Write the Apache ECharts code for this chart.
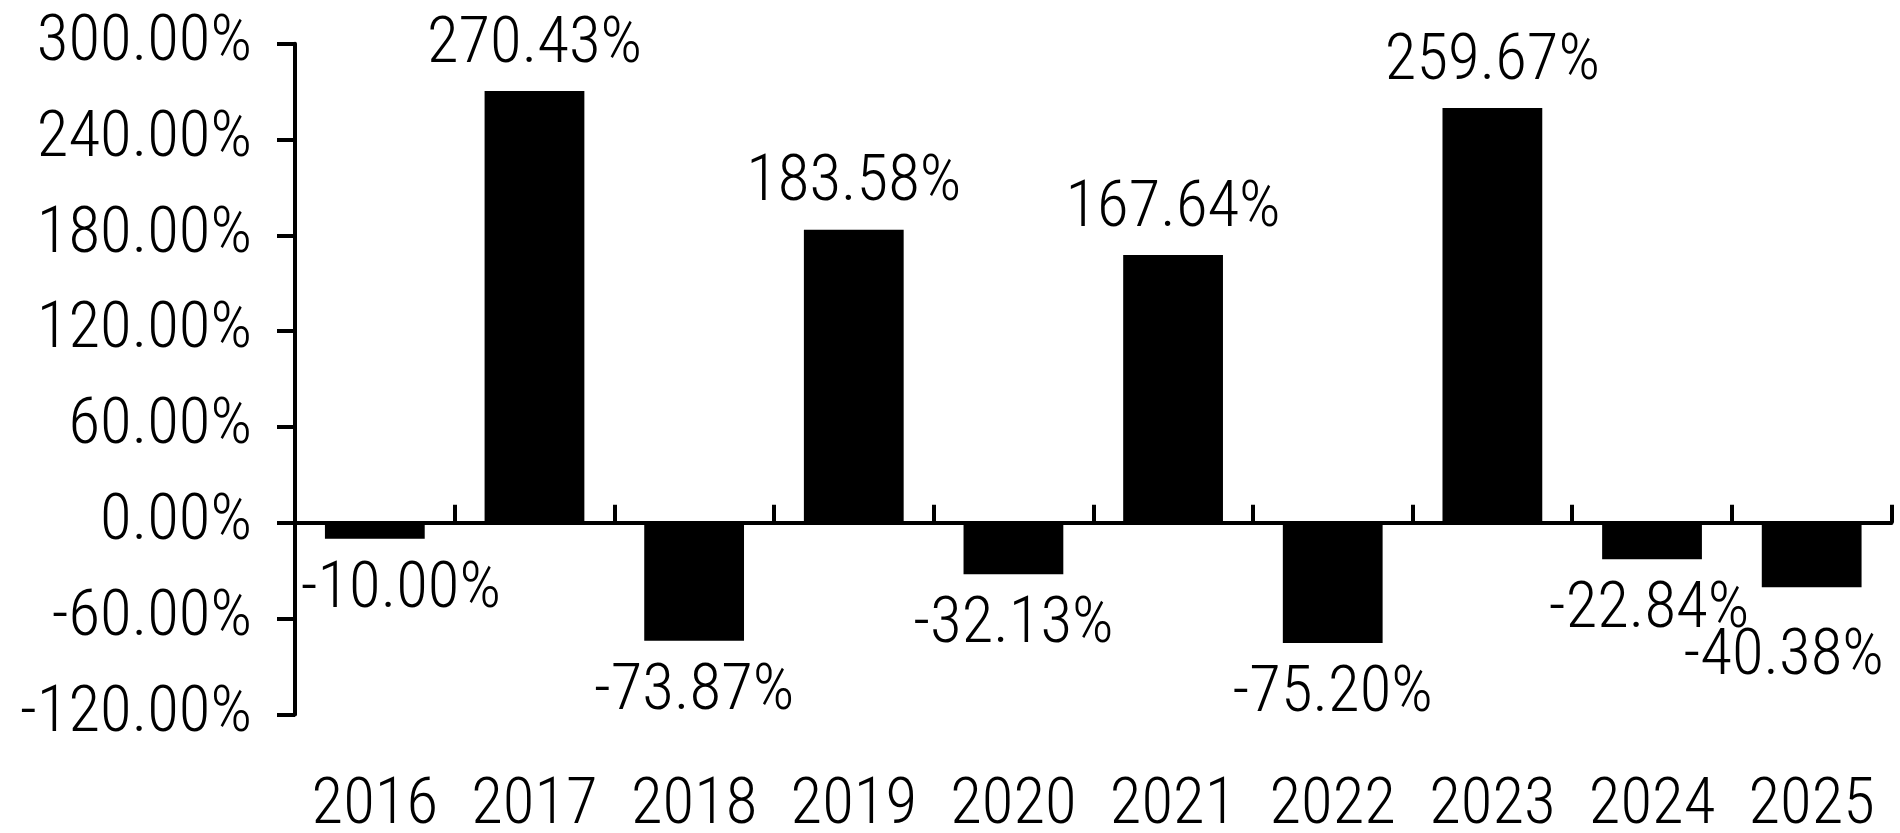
<!DOCTYPE html>
<html>
<head>
<meta charset="utf-8">
<script src="https://cdn.jsdelivr.net/npm/echarts@6/dist/echarts.min.js"></script>
<style>
html,body{margin:0;padding:0;background:#fff;}
#chart{width:1900px;height:833px;}
</style>
</head>
<body>
<div id="chart"></div>
<script>
var categories = ['2016','2017','2018','2019','2020','2021','2022','2023','2024','2025'];
var returns = [-10.00, 270.43, -73.87, 183.58, -32.13, 167.64, -75.20, 259.67, -22.84, -40.38];
var yTicks = {min: -120, max: 300, interval: 60};

var FONT = 'Roboto';
var WEIGHT = '300 condensed';
var FS = 65;

var labelOffsets = {0: [26, 0], 8: [-3, 0], 9: [-28, 19]};

var seriesData = returns.map(function (v, i) {
  var item = {value: v};
  var off = labelOffsets[i] || [0, 0];
  item.label = {position: v >= 0 ? 'top' : 'bottom', distance: v >= 0 ? 13 : 19, offset: off};
  return item;
});

var chart = echarts.init(document.getElementById('chart'), null, {renderer: 'canvas'});
chart.setOption({
  animation: false,
  backgroundColor: '#ffffff',
  grid: {left: 295, right: 8.5, top: 43.7, bottom: 118.5, containLabel: false, outerBoundsMode: 'none'},
  xAxis: [
    {
      type: 'category',
      data: categories,
      position: 'bottom',
      axisLine: {show: false, onZero: false},
      axisTick: {show: false},
      axisLabel: {interval: 0, hideOverlap: false, color: '#000', fontFamily: FONT, fontWeight: WEIGHT, fontSize: FS, margin: 60}
    },
    {
      type: 'category',
      data: categories,
      position: 'bottom',
      axisLine: {show: true, onZero: true, lineStyle: {color: '#000', width: 4}},
      axisTick: {show: true, interval: 0, inside: true, length: 18, lineStyle: {color: '#000', width: 4}},
      axisLabel: {show: false},
      splitLine: {show: false}
    }
  ],
  yAxis: {
    type: 'value',
    min: yTicks.min,
    max: yTicks.max,
    interval: yTicks.interval,
    axisLine: {show: true, lineStyle: {color: '#000', width: 4}},
    axisTick: {show: true, length: 18, lineStyle: {color: '#000', width: 4}},
    splitLine: {show: false},
    axisLabel: {
      color: '#000', fontFamily: FONT, fontWeight: WEIGHT, fontSize: FS, margin: 43,
      formatter: function (v) { return v.toFixed(2) + '%'; }
    }
  },
  series: [{
    type: 'bar',
    xAxisIndex: 0,
    data: seriesData,
    barCategoryGap: '37.5%',
    itemStyle: {color: '#000'},
    label: {
      show: true,
      color: '#000',
      fontFamily: FONT,
      fontWeight: WEIGHT,
      fontSize: FS,
      formatter: function (p) { return p.value.toFixed(2) + '%'; }
    }
  }]
});
</script>
</body>
</html>
